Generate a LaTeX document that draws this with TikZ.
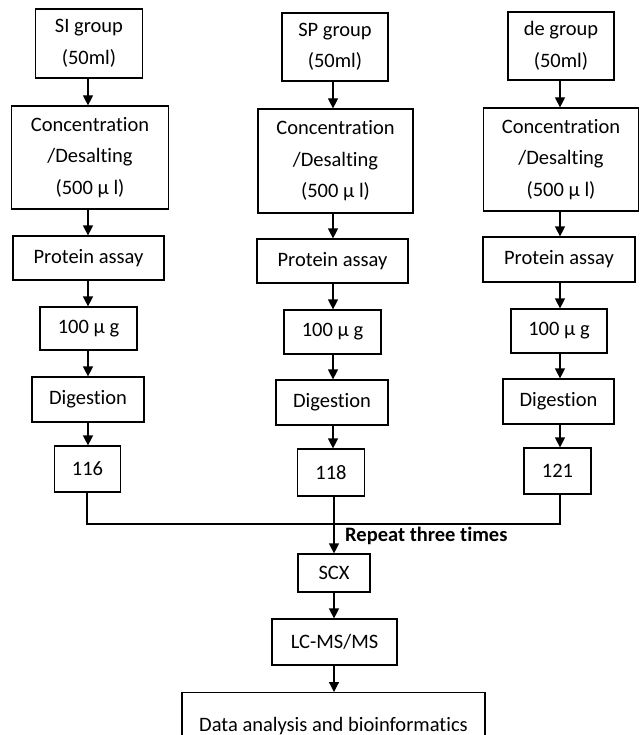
\documentclass[tikz,border=0pt]{standalone}
\usepackage{fontspec}
\setmainfont[Ligatures=NoCommon]{Carlito}
\usetikzlibrary{arrows.meta}
\begin{document}
\begin{tikzpicture}[x=1pt,y=-1pt,
  box/.style={draw,line width=1.2pt,align=center,inner sep=0pt,font=\fontsize{20.5}{31.5}\selectfont},
  arr/.style={line width=1.2pt,-{Triangle[length=10pt,width=10pt]}},
  ln/.style={line width=1.2pt}]
\useasboundingbox (0,0) rectangle (640,735);
% column 1
\node[box,minimum width=107pt,minimum height=69pt] (a1) at (89,43.5) {SI group\\(50ml)};
\node[box,minimum width=157pt,minimum height=103pt] (b1) at (90,157.5) {Concentration\\/Desalting\\(500 μ l)};
\node[box,minimum width=151pt,minimum height=44pt] (c1) at (88.5,258) {Protein assay};
\node[box,minimum width=97pt,minimum height=43pt] (d1) at (88.5,328.5) {100 μ g};
\node[box,minimum width=112pt,minimum height=45pt] (e1) at (88,399.5) {Digestion};
\node[box,minimum width=66pt,minimum height=46pt] (f1) at (87.5,469) {116};
% column 2
\node[box,minimum width=106pt,minimum height=68pt] (a2) at (335,47) {SP group\\(50ml)};
\node[box,minimum width=155pt,minimum height=104pt] (b2) at (335.5,161) {Concentration\\/Desalting\\(500 μ l)};
\node[box,minimum width=151pt,minimum height=44pt] (c2) at (332.5,261) {Protein assay};
\node[box,minimum width=97pt,minimum height=44pt] (d2) at (332.5,332) {100 μ g};
\node[box,minimum width=112pt,minimum height=45pt] (e2) at (332,402.5) {Digestion};
\node[box,minimum width=67pt,minimum height=47pt] (f2) at (331,472.5) {118};
% column 3
\node[box,minimum width=106pt,minimum height=68pt] (a3) at (561,46) {de group\\(50ml)};
\node[box,minimum width=155pt,minimum height=103pt] (b3) at (561,159.5) {Concentration\\/Desalting\\(500 μ l)};
\node[box,minimum width=152pt,minimum height=45pt] (c3) at (559,259.5) {Protein assay};
\node[box,minimum width=96pt,minimum height=44pt] (d3) at (559,331) {100 μ g};
\node[box,minimum width=111pt,minimum height=45pt] (e3) at (558.5,401.5) {Digestion};
\node[box,minimum width=67pt,minimum height=46pt] (f3) at (557.5,471) {121};
% bottom
\node[box,minimum width=72pt,minimum height=38pt] (g) at (334,573) {SCX};
\node[box,minimum width=125pt,minimum height=46pt] (h) at (334.5,642) {LC-MS/MS};
\node[box,minimum width=303pt,minimum height=66pt,anchor=north] (k) at (333.5,692) {Data analysis and bioinformatics};
\node[anchor=west,inner sep=0pt,font=\fontsize{20.5}{24}\selectfont\bfseries] (rep) at (345,536) {Repeat three times};
% coordinates
\coordinate (x1) at (88,0);
\coordinate (x2) at (333,0);
\coordinate (x3) at (560,0);
\coordinate (jl) at (87,524);
\coordinate (jm) at (334,524);
\coordinate (jr) at (560,524);
% arrows
\foreach \u/\v in {a1/b1,b1/c1,c1/d1,d1/e1,e1/f1}{
  \draw[arr] (\u.south -| x1) -- (\v.north -| x1);}
\foreach \u/\v in {a2/b2,b2/c2,c2/d2,d2/e2,e2/f2}{
  \draw[arr] (\u.south -| x2) -- (\v.north -| x2);}
\foreach \u/\v in {a3/b3,b3/c3,c3/d3,d3/e3,e3/f3}{
  \draw[arr] (\u.south -| x3) -- (\v.north -| x3);}
% merge
\draw[ln] (f1.south -| jl) -- (jl) -- (jr) -- (f3.south -| jr);
\draw[arr] (f2.south -| jm) -- (g.north -| jm);
\draw[arr] (g.south -| jm) -- (h.north -| jm);
\draw[arr] (h.south -| jm) -- (k.north -| jm);
\end{tikzpicture}
\end{document}
